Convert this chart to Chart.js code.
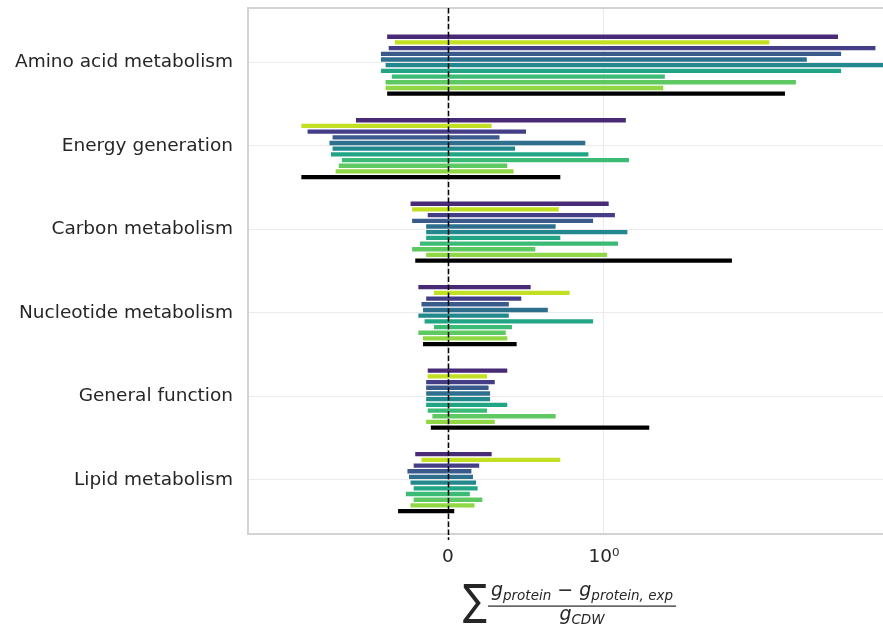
<!DOCTYPE html>
<html>
<head>
<meta charset="utf-8">
<script src="https://cdn.jsdelivr.net/npm/chart.js@4.4.0/dist/chart.umd.min.js"></script>
<style>
  html, body { margin: 0; padding: 0; background: #fff; overflow: hidden; }
  #wrap { width: 936px; height: 624px; }
</style>
</head>
<body>
<div id="wrap"><canvas id="chart"></canvas></div>
<script>
// categories from top to bottom
const categories = ['Amino acid metabolism', 'Energy generation', 'Carbon metabolism',
  'Nucleotide metabolism', 'General function', 'Lipid metabolism'];

// each series: [left end, right end] per category, read as positions on the
// symlog x axis (0 -> 0, 1 -> 10^0)
const series01 = [[-0.39, 2.50], [-0.59, 1.14], [-0.24, 1.03], [-0.19, 0.53], [-0.13, 0.38], [-0.21, 0.28]];
const series02 = [[-0.34, 2.06], [-0.94, 0.28], [-0.23, 0.71], [-0.09, 0.78], [-0.13, 0.25], [-0.17, 0.72]];
const series03 = [[-0.38, 2.74], [-0.90, 0.50], [-0.13, 1.07], [-0.14, 0.47], [-0.14, 0.30], [-0.22, 0.20]];
const series04 = [[-0.43, 2.52], [-0.74, 0.33], [-0.23, 0.93], [-0.17, 0.39], [-0.14, 0.26], [-0.26, 0.15]];
const series05 = [[-0.43, 2.30], [-0.76, 0.88], [-0.14, 0.69], [-0.16, 0.64], [-0.14, 0.27], [-0.25, 0.16]];
const series06 = [[-0.40, 3.00], [-0.74, 0.43], [-0.14, 1.15], [-0.19, 0.39], [-0.14, 0.27], [-0.24, 0.18]];
const series07 = [[-0.43, 2.52], [-0.75, 0.90], [-0.14, 0.72], [-0.15, 0.93], [-0.14, 0.38], [-0.22, 0.19]];
const series08 = [[-0.36, 1.39], [-0.68, 1.16], [-0.18, 1.09], [-0.09, 0.41], [-0.13, 0.25], [-0.27, 0.14]];
const series09 = [[-0.40, 2.23], [-0.70, 0.38], [-0.23, 0.56], [-0.19, 0.37], [-0.10, 0.69], [-0.22, 0.22]];
const series10 = [[-0.40, 1.38], [-0.72, 0.42], [-0.14, 1.02], [-0.16, 0.38], [-0.14, 0.30], [-0.24, 0.17]];
const series11 = [[-0.39, 2.16], [-0.94, 0.72], [-0.21, 1.82], [-0.16, 0.44], [-0.11, 1.29], [-0.32, 0.04]];

const allSeries = [series01, series02, series03, series04, series05, series06,
  series07, series08, series09, series10, series11];
const colors = ['#482a76', '#c2df23', '#433e85', '#3a5a8c', '#2e6f8e', '#23888e',
  '#21a585', '#3bbb75', '#5ec962', '#8fd744', '#000000'];

const xTickValues = [0, 1];
const xTickLabels = ['0', '10\u2070'];

const textColor = '#262626';
const font = { family: 'DejaVu Sans', size: 18.5 };

const datasets = allSeries.map((s, k) => ({
  data: s.map((r, i) => ({ y: i + 0.035, x: r })),
  backgroundColor: colors[k],
  borderWidth: 0,
  categoryPercentage: 0.75,
  barPercentage: 0.76
}));

function drawFormula(ctx, cx, yTop) {
  const big = '19px "DejaVu Sans"';
  const itBig = 'italic 19px "DejaVu Sans"';
  const itSub = 'italic 13.5px "DejaVu Sans"';
  ctx.save();
  ctx.fillStyle = textColor;
  ctx.textBaseline = 'alphabetic';
  ctx.textAlign = 'left';

  const num = [[itBig, 'g', 0], [itSub, 'protein', 4], [big, ' \u2212 ', 0], [itBig, 'g', 0], [itSub, 'protein, exp', 4]];
  const den = [[itBig, 'g', 0], [itSub, 'CDW', 4]];
  const width = parts => parts.reduce((w, p) => { ctx.font = p[0]; return w + ctx.measureText(p[1]).width; }, 0);
  const draw = (parts, x, base) => {
    parts.forEach(p => { ctx.font = p[0]; ctx.fillText(p[1], x, base + p[2]); x += ctx.measureText(p[1]).width; });
  };

  const nw = width(num);
  const lineL = cx - nw / 2 - 3, lineR = cx + nw / 2 + 3;
  draw(num, cx - nw / 2, yTop + 13);
  ctx.fillRect(lineL, yTop + 22.5, lineR - lineL, 1.2);
  const dw = width(den);
  draw(den, cx - dw / 2, yTop + 37);

  // big summation sign to the left of the fraction, 40px tall and 24px wide
  ctx.font = '40px "DejaVu Sans"';
  const m = ctx.measureText('\u2211');
  const h = m.actualBoundingBoxAscent + m.actualBoundingBoxDescent;
  const size = 40 * 40 / h;
  ctx.font = size + 'px "DejaVu Sans"';
  const m2 = ctx.measureText('\u2211');
  const sw = m2.actualBoundingBoxRight + m2.actualBoundingBoxLeft;
  const sx = 24 / sw;
  ctx.translate(lineL - 25, yTop + m2.actualBoundingBoxAscent);
  ctx.scale(sx, 1);
  ctx.fillText('\u2211', m2.actualBoundingBoxLeft, 0);
  ctx.restore();
}

const extras = {
  id: 'extras',
  afterDatasetsDraw(chart) {
    const { ctx, chartArea: a, scales: { x } } = chart;
    ctx.save();
    ctx.strokeStyle = '#d3d3d3';
    ctx.lineWidth = 2;
    ctx.strokeRect(a.left, a.top, a.right - a.left, a.bottom - a.top);
    const x0 = Math.round(x.getPixelForValue(0)) + 0.5;
    ctx.strokeStyle = '#000';
    ctx.lineWidth = 1.5;
    ctx.setLineDash([5.5, 2.4]);
    ctx.beginPath();
    ctx.moveTo(x0, a.top);
    ctx.lineTo(x0, a.bottom + 6);
    ctx.stroke();
    ctx.restore();
  },
  afterDraw(chart) {
    const a = chart.chartArea;
    drawFormula(chart.ctx, (a.left + a.right) / 2, a.bottom + 49);
  }
};

new Chart(document.getElementById('chart'), {
  type: 'bar',
  data: { datasets },
  options: {
    indexAxis: 'y',
    responsive: true,
    maintainAspectRatio: false,
    animation: false,
    layout: { padding: { top: 8, right: 20, left: 0, bottom: 0 } },
    plugins: { legend: { display: false }, tooltip: { enabled: false } },
    scales: {
      x: {
        type: 'linear',
        min: -1.282,
        max: 3.0,
        afterBuildTicks: s => { s.ticks = xTickValues.map(v => ({ value: v })); },
        afterFit: s => { s.height = 90; s.paddingLeft = 0; s.paddingRight = 0; },
        ticks: {
          callback: v => xTickLabels[xTickValues.indexOf(v)],
          color: textColor,
          font,
          padding: 12
        },
        grid: { color: '#ebebeb', drawTicks: false },
        border: { display: false }
      },
      y: {
        type: 'linear',
        reverse: true,
        offset: false,
        min: -0.65,
        max: 5.65,
        afterBuildTicks: s => { s.ticks = categories.map((c, i) => ({ value: i })); },
        afterFit: s => { s.width = 248; s.paddingTop = 0; s.paddingBottom = 0; },
        ticks: {
          callback: v => categories[v],
          color: textColor,
          font,
          padding: 15
        },
        grid: { color: '#ebebeb', drawTicks: false, offset: false },
        border: { display: false }
      }
    }
  },
  plugins: [extras]
});
</script>
</body>
</html>
